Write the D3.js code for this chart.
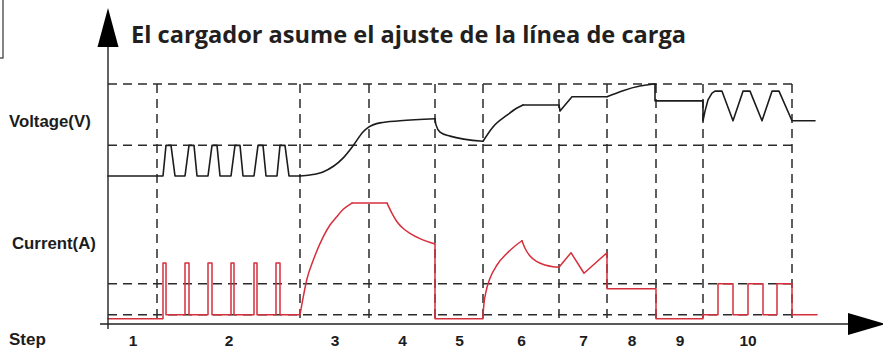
<!DOCTYPE html>
<html>
<head>
<meta charset="utf-8">
<script src="https://cdn.jsdelivr.net/npm/d3@7"></script>
<style>
  html, body { margin: 0; padding: 0; background: #fff; }
  svg { display: block; }
</style>
</head>
<body>
<svg id="chart" width="883" height="349"></svg>
<script>
// ---- Chart content ---------------------------------------------------------
const chartTitle = "El cargador asume el ajuste de la línea de carga";
const voltageLabel = "Voltage(V)";
const currentLabel = "Current(A)";
const stepAxisLabel = "Step";
const stepLabels = ["1", "2", "3", "4", "5", "6", "7", "8", "9", "10"];
// Step boundaries on the time axis (first value = origin)
const stepEdges = [0, 4.9, 19.2, 26.1, 32.7, 37.5, 45.1, 49.9, 54.8, 59.5, 68.4];
const timeEnd = 71;

// Reference levels (dashed guides)
const voltageGuides = [14.4, 13.2];
const currentGuides = [3.9, 0.9];

// ---- Voltage trace [time, volts] -------------------------------------------
const voltageDiagnose = [
  [0, 12.6], [5.5, 12.6], [5.8, 13.2], [6.3, 13.2], [6.7, 12.6],
  [7.7, 12.6], [8.1, 13.2], [8.6, 13.2], [8.9, 12.6],
  [10.0, 12.6], [10.4, 13.2], [10.9, 13.2], [11.2, 12.6],
  [12.3, 12.6], [12.7, 13.2], [13.2, 13.2], [13.5, 12.6],
  [14.6, 12.6], [15.0, 13.2], [15.5, 13.2], [15.8, 12.6],
  [16.9, 12.6], [17.2, 13.2], [17.7, 13.2], [18.1, 12.6], [19.2, 12.6]
];
const voltageBulk = [
  [19.2, 12.6], [20.2, 12.62], [21.5, 12.68], [23.5, 12.95], [24.5, 13.19],
  [25.5, 13.46], [26.1, 13.56], [27.2, 13.64], [29.2, 13.68], [32.7, 13.72]
];
const voltageRelax = [
  [32.7, 13.72], [32.8, 13.6], [33.2, 13.46], [34.2, 13.38], [37.5, 13.28]
];
const voltageRecover = [
  [37.5, 13.28], [38.5, 13.56], [39.9, 13.79], [40.9, 13.93], [41.5, 13.99]
];
const voltageHold = [
  [41.5, 13.99], [45.1, 13.99], [45.2, 13.87], [46.4, 14.15], [49.9, 14.15]
];
const voltageTopping = [
  [49.9, 14.15], [51.5, 14.27], [53.2, 14.36], [54.2, 14.39], [54.7, 14.4]
];
const voltageMaintain = [
  [54.7, 14.4], [54.7, 14.07], [59.5, 14.07], [59.5, 13.68], [59.7, 13.87],
  [60.0, 14.09], [60.4, 14.22], [60.7, 14.26], [61.4, 14.26], [62.5, 13.68],
  [63.5, 14.26], [64.2, 14.26], [65.4, 13.68], [66.4, 14.26], [67.1, 14.26],
  [68.4, 13.68], [70.7, 13.68]
];

// ---- Current trace [time, amps] --------------------------------------------
const currentDiagnose = [
  [0, 0.5], [5.5, 0.5], [5.5, 5.9], [5.8, 5.9], [5.8, 0.9],
  [7.7, 0.9], [7.7, 5.9], [8.1, 5.9], [8.1, 0.9],
  [10.0, 0.9], [10.0, 5.9], [10.4, 5.9], [10.4, 0.9],
  [12.3, 0.9], [12.3, 5.9], [12.6, 5.9], [12.6, 0.9],
  [14.6, 0.9], [14.6, 5.9], [14.9, 5.9], [14.9, 0.9],
  [16.8, 0.9], [16.8, 5.9], [17.2, 5.9], [17.2, 0.9], [19.2, 0.9]
];
const currentRamp = [
  [19.2, 0.9], [19.53, 2.64], [19.87, 4.26], [20.53, 6.19], [21.53, 8.45],
  [22.2, 9.58], [22.87, 10.38], [23.53, 11.1], [24.4, 11.7]
];
const currentBulk = [[24.4, 11.7], [27.9, 11.7]];
const currentAbsorb = [
  [27.9, 11.7], [28.4, 10.71], [28.9, 9.9], [29.5, 9.26], [30.2, 8.78],
  [31.2, 8.26], [32.7, 7.74]
];
const currentRest = [[32.7, 7.74], [32.7, 0.5], [37.5, 0.5], [37.5, 0.9]];
const currentRecoverRise = [
  [37.5, 0.9], [37.6, 2.0], [37.8, 3.13], [38.2, 4.42], [38.9, 5.71],
  [39.9, 6.84], [40.7, 7.55], [41.4, 8.06]
];
const currentRecoverFall = [
  [41.4, 8.06], [41.7, 7.33], [42.2, 6.58], [42.9, 6.03], [43.7, 5.71],
  [44.5, 5.55], [45.1, 5.49]
];
const currentFinish = [
  [45.1, 5.49], [46.3, 6.9], [47.6, 4.91], [49.9, 6.9], [49.9, 3.4],
  [54.8, 3.4], [54.8, 0.5], [59.5, 0.5], [59.5, 0.9], [61.0, 0.9],
  [61.0, 3.9], [62.5, 3.9], [62.5, 0.9], [64.0, 0.9], [64.0, 3.9],
  [65.5, 3.9], [65.5, 0.9], [66.9, 0.9], [66.9, 3.9], [68.4, 3.9],
  [68.4, 0.9], [70.9, 0.9]
];

// ---- Drawing ---------------------------------------------------------------
const svg = d3.select("#chart");
const ink = "#1c1c1c";
const gridInk = "#2b2b2b";
const red = "#d62f3c";
const labelFont = "'Liberation Sans', Arial, Helvetica, sans-serif";

const x = d3.scaleLinear().domain([0, timeEnd]).range([108, 818]);
const yV = d3.scaleLinear().domain([12.6, 14.4]).range([176, 84]);
const yA = d3.scaleLinear().domain([0, 12]).range([324, 200]);

// corner frame fragment at top-left
svg.append("rect")
  .attr("x", -10).attr("y", -10).attr("width", 13).attr("height", 68)
  .attr("fill", "none").attr("stroke", "#333").attr("stroke-width", 1.2);

// dashed guides
const grid = svg.append("g").attr("fill", "none").attr("stroke", gridInk)
  .attr("stroke-width", 1.5).attr("stroke-dasharray", "9,6");
const lastEdge = stepEdges[stepEdges.length - 1];
grid.selectAll("line.hv").data(voltageGuides).join("line")
  .attr("x1", x(0)).attr("x2", x(lastEdge))
  .attr("y1", d => yV(d)).attr("y2", d => yV(d));
grid.selectAll("line.ha").data(currentGuides).join("line")
  .attr("class", "ha")
  .attr("x1", x(0)).attr("x2", x(lastEdge))
  .attr("y1", d => yA(d)).attr("y2", d => yA(d));
grid.selectAll("line.v").data(stepEdges.slice(1)).join("line")
  .attr("class", "v")
  .attr("x1", d => x(d)).attr("x2", d => x(d))
  .attr("y1", yV(voltageGuides[0])).attr("y2", yA(0));

// traces
const lineFn = (yScale, curve) => d3.line()
  .x(d => x(d[0])).y(d => yScale(d[1])).curve(curve);
const lin = d3.curveLinear, smooth = d3.curveMonotoneX;

const currentPieces = [
  [currentDiagnose, lin], [currentRamp, smooth], [currentBulk, lin],
  [currentAbsorb, smooth], [currentRest, lin], [currentRecoverRise, smooth],
  [currentRecoverFall, smooth], [currentFinish, lin]
];
const voltagePieces = [
  [voltageDiagnose, lin], [voltageBulk, smooth], [voltageRelax, smooth],
  [voltageRecover, smooth], [voltageHold, lin], [voltageTopping, smooth],
  [voltageMaintain, lin]
];

svg.append("g").selectAll("path").data(currentPieces).join("path")
  .attr("d", d => lineFn(yA, d[1])(d[0]))
  .attr("fill", "none").attr("stroke", red).attr("stroke-width", 1.5)
  .attr("stroke-linejoin", "round").attr("stroke-linecap", "round");

svg.append("g").selectAll("path").data(voltagePieces).join("path")
  .attr("d", d => lineFn(yV, d[1])(d[0]))
  .attr("fill", "none").attr("stroke", ink).attr("stroke-width", 1.6)
  .attr("stroke-linejoin", "round").attr("stroke-linecap", "round");

// axes with arrow heads
const x0 = x(0), y0 = yA(0);
svg.append("line").attr("x1", x0 - 8).attr("x2", 849).attr("y1", y0).attr("y2", y0)
  .attr("stroke", "#222").attr("stroke-width", 1.4);
svg.append("path").attr("d", `M848,${y0 - 11}L886,${y0}L848,${y0 + 11}Z`).attr("fill", "#000");
svg.append("line").attr("x1", x0).attr("x2", x0).attr("y1", 46).attr("y2", y0 + 5)
  .attr("stroke", "#222").attr("stroke-width", 1.4);
svg.append("path").attr("d", `M${x0 - 10.5},47L${x0},8L${x0 + 10.5},47Z`).attr("fill", "#000");

// step numbers along the time axis
const stepCenters = stepLabels.map((d, i) => (stepEdges[i] + stepEdges[i + 1]) / 2);
const stepAxis = d3.axisBottom(x).tickValues(stepCenters)
  .tickFormat((d, i) => stepLabels[i]).tickSize(0).tickPadding(0);
const ga = svg.append("g").attr("transform", `translate(0,${y0})`).call(stepAxis);
ga.select(".domain").remove();
ga.attr("font-family", labelFont).attr("font-size", 15.5).attr("font-weight", "bold");
ga.selectAll("text").attr("dy", null).attr("y", 22).attr("fill", ink);

// side labels
const side = svg.append("g").attr("font-family", labelFont).attr("font-weight", "bold")
  .attr("font-size", 16.8).attr("fill", ink);
side.append("text").attr("x", 9).attr("y", 127).text(voltageLabel);
side.append("text").attr("x", 12).attr("y", 249).text(currentLabel);
side.append("text").attr("x", 9).attr("y", 345).attr("font-size", 17).text(stepAxisLabel);

// title
svg.append("text").attr("x", 131).attr("y", 43)
  .attr("font-family", "'Open Sans', 'Noto Sans', sans-serif")
  .attr("font-weight", "bold").attr("font-size", 23.6)
  .attr("fill", "#231f20").text(chartTitle);
</script>
</body>
</html>
